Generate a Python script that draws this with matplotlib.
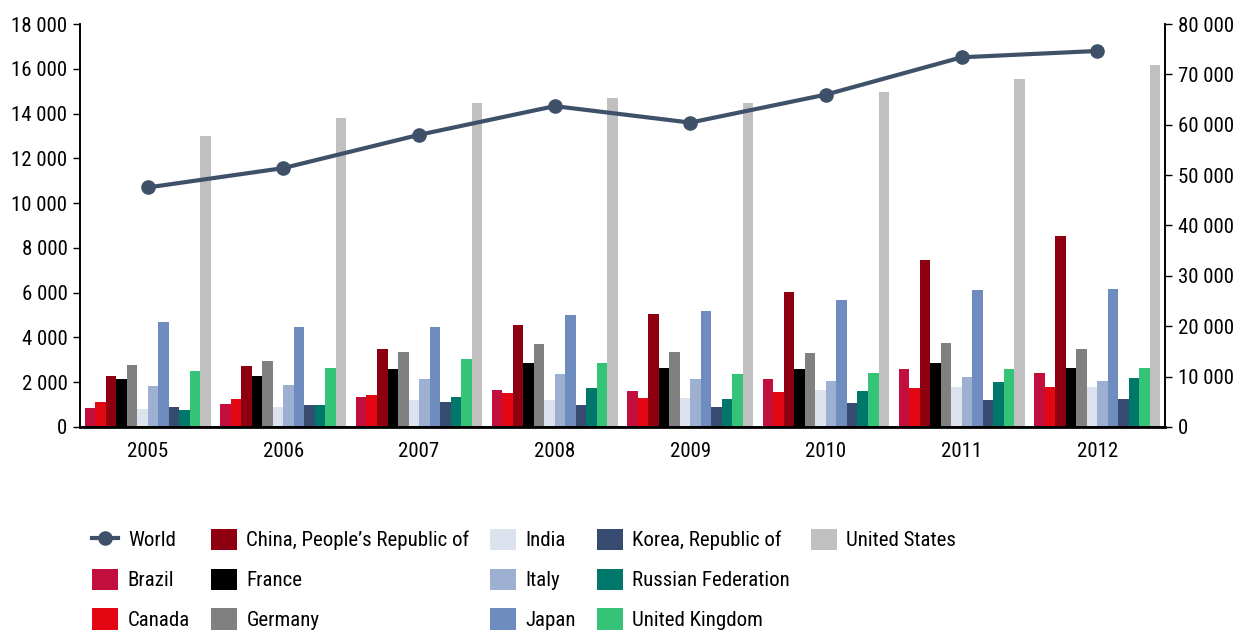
import matplotlib
matplotlib.use("Agg")
import matplotlib.pyplot as plt
import numpy as np
from matplotlib.ticker import FuncFormatter, MultipleLocator
from matplotlib.lines import Line2D
from matplotlib.patches import Patch

plt.rcParams['font.family'] = ['Roboto Condensed', 'Liberation Sans Narrow', 'Arial Narrow',
                               'Roboto', 'DejaVu Sans']

years = ["2005", "2006", "2007", "2008", "2009", "2010", "2011", "2012"]
countries = ["Brazil", "Canada", "China, People\u2019s Republic of", "France", "Germany",
             "India", "Italy", "Japan", "Korea, Republic of", "Russian Federation",
             "United Kingdom", "United States"]

brazil  = [850, 1040, 1340, 1630, 1590, 2150, 2580, 2410]
canada  = [1130, 1260, 1430, 1500, 1310, 1545, 1730, 1780]
china   = [2260, 2740, 3490, 4560, 5050, 6030, 7470, 8530]
france  = [2140, 2260, 2600, 2870, 2645, 2610, 2840, 2630]
germany = [2780, 2960, 3370, 3715, 3370, 3315, 3730, 3480]
india   = [790, 880, 1190, 1190, 1310, 1635, 1780, 1780]
italy   = [1810, 1890, 2140, 2350, 2140, 2050, 2245, 2040]
japan   = [4710, 4460, 4460, 4980, 5190, 5650, 6120, 6170]
korea   = [880, 1000, 1130, 1000, 880, 1085, 1190, 1230]
russia  = [740, 1000, 1340, 1720, 1260, 1590, 1990, 2170]
uk      = [2480, 2645, 3030, 2850, 2350, 2390, 2570, 2630]
us      = [13000, 13820, 14450, 14700, 14450, 14970, 15550, 16190]
world   = [47550, 51400, 58000, 63700, 60430, 65990, 73390, 74650]

series = [brazil, canada, china, france, germany, india, italy, japan, korea, russia, uk, us]
colors = ["#C20E3C", "#E30613", "#8E0010", "#000000", "#808080", "#DCE3EF",
          "#9DB0D2", "#6E8DBE", "#364B6F", "#00776B", "#35C377", "#C0C0C0"]
world_color = "#3F5169"

fig = plt.figure(figsize=(12.36, 6.37), dpi=100)
ax = fig.add_axes([0.0647, 0.3297, 0.8779, 0.6326])
ax2 = ax.twinx()

x = np.arange(len(years))
n = len(series)
w = 0.93 / n
for i, (vals, c) in enumerate(zip(series, colors)):
    ax.bar(x - 0.465 + w * (i + 0.5), vals, width=w, color=c, linewidth=0, zorder=2)

ax2.plot(x, world, color=world_color, linewidth=3.0, marker='o', markersize=9.5, zorder=3,
         solid_capstyle='round')

ax.set_xlim(-0.5, len(years) - 0.5)
ax.set_ylim(0, 18000)
ax2.set_ylim(0, 80000)
ax.yaxis.set_major_locator(MultipleLocator(2000))
ax2.yaxis.set_major_locator(MultipleLocator(10000))
fmt = FuncFormatter(lambda v, p: f"{int(v):,}".replace(",", " "))
ax.yaxis.set_major_formatter(fmt)
ax2.yaxis.set_major_formatter(fmt)
ax.set_xticks(x)
ax.set_xticklabels(years)

for a in (ax, ax2):
    a.spines['top'].set_visible(False)
    for s in a.spines.values():
        s.set_linewidth(1.2)
ax.spines['bottom'].set_linewidth(2)
ax.tick_params(axis='x', length=0, labelsize=15, pad=11)
ax.tick_params(axis='y', length=5, width=1, labelsize=15, direction='out', pad=4)
ax2.tick_params(axis='y', length=5, width=1, labelsize=15, direction='out', pad=4)

handles = [Line2D([0], [0], color=world_color, linewidth=3.0, marker='o', markersize=9.5)]
labels = ["World"]
for name, c in zip(countries, colors):
    handles.append(Patch(facecolor=c, edgecolor='none'))
    labels.append(name)
# two empty slots so the columns fill 3,3,3,3,1 as in the reference
blank = Patch(facecolor='none', edgecolor='none')
handles += [blank, blank]
labels += ["", ""]

fig.legend(handles, labels, loc='upper left', bbox_to_anchor=(0.068, 0.183),
           ncol=5, frameon=False, fontsize=15.0, handlelength=1.25, handleheight=1.2,
           handletextpad=0.45, columnspacing=1.0, labelspacing=0.87,
           borderaxespad=0)

fig.savefig("out.png", dpi=100)
